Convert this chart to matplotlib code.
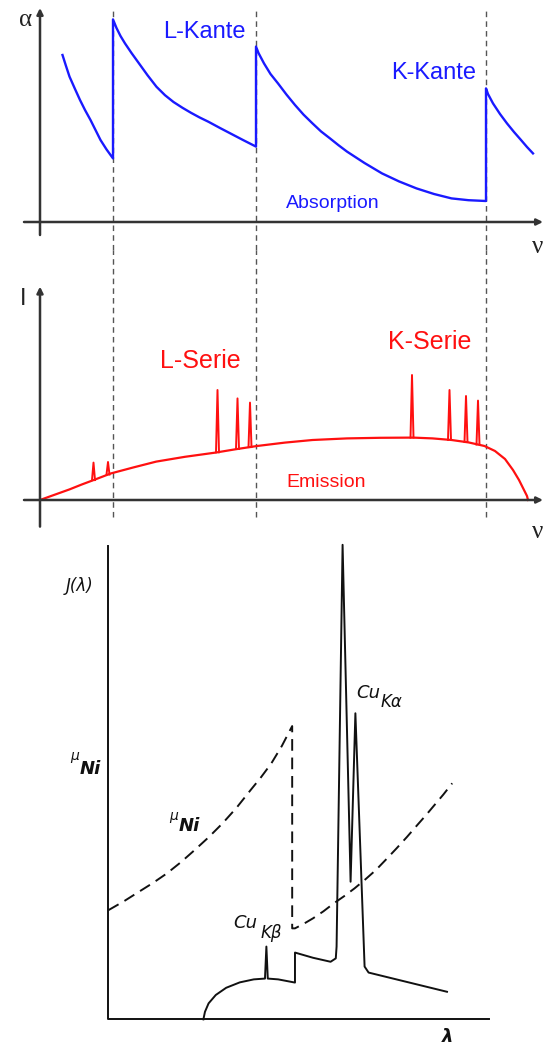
import numpy as np
import matplotlib.pyplot as plt

# absorption coefficient vs frequency (arbitrary units)
edge_x = [14.6, 43.2, 89.2]
abs_x = [4.5, 5.2, 5.9, 7.0, 8.0, 9.0, 10.1, 11.1, 12.1, 13.3, 14.6,
         14.6, 15.3, 16.1, 17.0, 18.3, 19.8, 21.5, 23.3, 25.0, 26.7, 28.5, 30.2, 31.9, 33.7,
         36.0, 38.3, 40.6, 43.2,
         43.2, 43.7, 44.8, 46.1, 47.6, 49.3, 51.0, 52.7, 54.5, 56.2, 58.0, 59.7, 61.4, 64.9,
         68.4, 71.8, 75.3, 78.8, 82.3, 85.7, 89.2,
         89.2, 89.6, 90.6, 92.0, 93.4, 94.8, 96.2, 97.4, 98.6]
abs_y = [83.5, 78.0, 72.7, 66.5, 61.0, 56.0, 51.0, 46.0, 41.0, 36.3, 31.8,
         101.3, 97.0, 93.0, 89.3, 84.5, 79.3, 73.4, 67.6, 63.4, 60.0, 57.1, 54.6, 52.3, 50.1,
         47.0, 44.0, 41.0, 37.7,
         87.7, 84.5, 79.3, 74.0, 69.3, 63.7, 58.5, 53.7, 49.3, 45.3, 41.8, 38.4, 35.2, 29.5,
         24.3, 20.3, 16.8, 14.0, 11.8, 10.9, 10.5,
         66.8, 64.0, 59.3, 54.0, 49.3, 45.0, 41.0, 37.5, 34.3]

# emission: continuum + characteristic lines
cont_x = [0, 3.0, 5.9, 8.3, 10.75, 14.2, 18.7, 23.25, 29.0, 35.1, 39.2, 43.4, 49.0, 54.5, 61.4,
          68.0, 74.6, 78.5, 82.3, 85.7, 88.9, 91.0, 93.0, 94.6, 95.8, 96.8, 97.4, 97.6]
cont_y = [0, 2.7, 5.3, 7.7, 10.0, 13.3, 16.3, 19.2, 21.6, 23.7, 25.4, 27.0, 28.7, 30.0, 30.8,
          31.1, 31.2, 30.8, 30.0, 28.8, 27.0, 24.5, 20.5, 15.0, 10.0, 5.0, 2.0, 0]
line_x = [10.7, 13.6, 35.5, 39.5, 42.0, 74.4, 81.9, 85.2, 87.6]
line_peak = [18.7, 19.0, 55.0, 50.8, 48.7, 62.5, 55.0, 52.0, 49.7]

# Cu spectrum and Ni absorption (bottom sketch)
mu_x = [0.17, 4.0, 7.8, 11.3, 14.8, 18.3, 21.7, 25.2, 28.7, 32.2, 35.7, 38.3, 40.9, 43.5, 46.1,
        46.1, 46.8, 49.0, 51.3, 53.9, 56.5, 59.1, 61.7, 64.4, 67.0, 69.6, 72.2, 74.8, 77.4,
        79.6, 81.7, 83.9, 86.1]
mu_y = [27.3, 29.5, 31.9, 34.1, 36.5, 39.3, 42.3, 45.5, 49.0, 52.9, 57.3, 60.5, 64.0, 68.3, 73.3,
        22.75, 22.75, 23.9, 25.25, 27.0, 29.0, 30.8, 32.75, 35.0, 37.3, 40.0, 42.75, 45.6, 48.6,
        51.1, 53.6, 56.2, 59.0]
spec_x = [23.9, 24.3, 25.2, 27.0, 29.6, 33.0, 36.5, 39.3, 39.65, 40.0, 42.6, 46.8, 46.8, 51.3, 55.7, 57.0,
          57.2, 58.7, 60.7, 61.9, 64.2, 65.2, 84.8]
spec_y = [0, 1.9, 4.0, 6.1, 7.9, 9.25, 10.0, 10.2, 18.2, 10.2, 10.0, 9.2, 16.7, 15.4, 14.4, 15.25,
          18.2, 118.6, 34.4, 76.5, 13.2, 11.7, 6.9]

SANS = 'Liberation Sans'
SERIF = 'Liberation Serif'
AX_COL = '#333333'


def axis_arrow(ax, start, end, lw=1.8):
    ax.annotate('', xy=end, xytext=start,
                arrowprops=dict(arrowstyle='-|>', lw=lw, color=AX_COL,
                                mutation_scale=9, shrinkA=0, shrinkB=0))


fig = plt.figure(figsize=(5.43, 10.45), dpi=100)
H = 1045.0

# top panel: absorption
ax1 = fig.add_axes([0, (H - 250) / H, 1, 250 / H])
ax1.set_xlim(-8, 100.6)
ax1.set_ylim(-14, 111)
ax1.axis('off')
ax1.vlines(edge_x, -14, 107, colors='#555555', linestyles=(0, (4, 3)), lw=1.0, clip_on=False)
axis_arrow(ax1, (0, -6.5), (0, 107))
axis_arrow(ax1, (-3.2, 0), (100.6, 0))
ax1.plot(abs_x, abs_y, color='#1a1aff', lw=1.7, solid_joinstyle='round')
ax1.text(32.8, 91.8, 'L-Kante', color='#1a1aff', fontsize=17, family=SANS, ha='center', va='baseline')
ax1.text(78.7, 71.5, 'K-Kante', color='#1a1aff', fontsize=17, family=SANS, ha='center', va='baseline')
ax1.text(58.5, 6.9, 'Absorption', color='#1a1aff', fontsize=14, family=SANS, ha='center', va='baseline')
ax1.text(-2.8, 101, 'α', fontsize=18, family=SERIF, ha='center', va='center', color='#222222')
ax1.text(99.6, -12.3, 'ν', fontsize=18, family=SERIF, ha='center', va='center', color='#222222',
         clip_on=False)

# middle panel: emission
ax2 = fig.add_axes([0, (H - 540) / H, 1, 290 / H])
ax2.set_xlim(-8, 100.6)
ax2.set_ylim(-20, 125)
ax2.axis('off')
ax2.vlines(edge_x, -8.5, 125, colors='#555555', linestyles=(0, (4, 3)), lw=1.0, clip_on=False)
axis_arrow(ax2, (0, -13.3), (0, 106.7))
axis_arrow(ax2, (-3.2, 0), (100.6, 0))
ax2.plot(cont_x, cont_y, color='#ff1010', lw=1.6, solid_joinstyle='round')
for lx, lp in zip(line_x, line_peak):
    base = np.interp(lx, cont_x, cont_y)
    ax2.plot([lx - 0.3, lx, lx + 0.3], [base, lp, base], color='#ff1010', lw=1.4)
ax2.text(32, 65.8, 'L-Serie', color='#ff1010', fontsize=18, family=SANS, ha='center', va='baseline')
ax2.text(78, 75.3, 'K-Serie', color='#ff1010', fontsize=18, family=SANS, ha='center', va='baseline')
ax2.text(57.2, 6.6, 'Emission', color='#ff1010', fontsize=14, family=SANS, ha='center', va='baseline')
ax2.text(-3.3, 100.5, 'I', fontsize=17, family=SANS, ha='center', va='center', color='#222222')
ax2.text(99.6, -15.8, 'ν', fontsize=18, family=SERIF, ha='center', va='center', color='#222222',
         clip_on=False)

# bottom panel: Cu K radiation with Ni filter
ax3 = fig.add_axes([0, 0, 1, 505 / H])
ax3.set_xlim(-26.94, 108.8)
ax3.set_ylim(-6.4, 119.8)
ax3.axis('off')
ax3.plot([0, 0, 95.2], [118.2, 0, 0], color='#111111', lw=1.4)
ax3.plot(mu_x, mu_y, color='#111111', lw=1.4, dashes=(6, 3.5))
ax3.plot(spec_x, spec_y, color='#111111', lw=1.4)
hand = dict(family='DejaVu Sans', style='italic', color='#111111')
ax3.text(-7, 108.2, 'J(λ)', fontsize=12, ha='center', va='center', **hand)
ax3.text(-8.3, 65.9, 'μ', fontsize=10, ha='center', va='center', **hand)
ax3.text(-4.3, 62.6, 'Ni', fontsize=13, weight='bold', ha='center', va='center', **hand)
ax3.text(16.5, 50.9, 'μ', fontsize=10, ha='center', va='center', **hand)
ax3.text(20.4, 48.4, 'Ni', fontsize=13, weight='bold', ha='center', va='center', **hand)
ax3.text(65.2, 81.5, 'Cu', fontsize=13, ha='center', va='center', **hand)
ax3.text(70.9, 79.2, 'Kα', fontsize=12, ha='center', va='center', **hand)
ax3.text(34.3, 24.0, 'Cu', fontsize=13, ha='center', va='center', **hand)
ax3.text(40.9, 21.7, 'Kβ', fontsize=12, ha='center', va='center', **hand)
ax3.text(84.8, -4.5, 'λ', fontsize=13, weight='bold', ha='center', va='center', **hand)

fig.savefig('out.png', dpi=100)
